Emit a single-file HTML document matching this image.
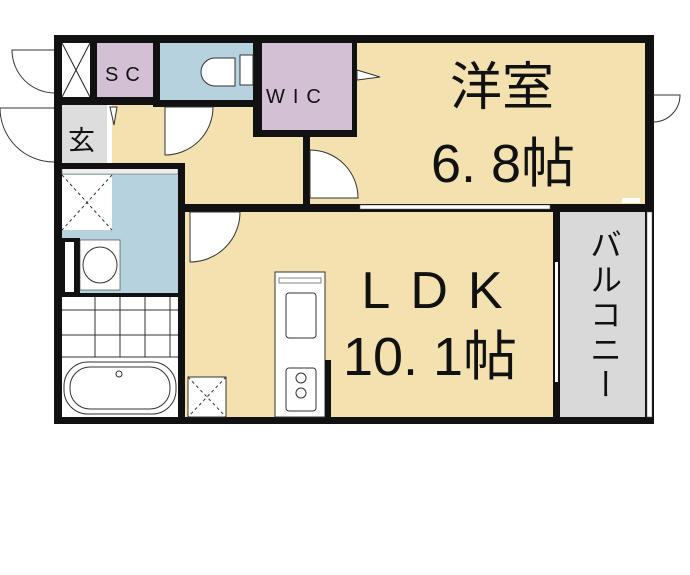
<!DOCTYPE html>
<html><head><meta charset="utf-8"><style>
body{margin:0;background:#fff;width:690px;height:575px;overflow:hidden}
svg{position:absolute;left:0;top:0}
text{font-family:"Liberation Sans","Noto Sans CJK JP",sans-serif;fill:#111}
</style></head><body>
<svg width="690" height="575" viewBox="0 0 690 575">
<rect x="54" y="35" width="600" height="389" fill="#111"/>
<rect x="357" y="43" width="288" height="161" fill="#f3e2b0"/>
<rect x="185" y="212" width="368" height="205" fill="#f3e2b0"/>
<rect x="110" y="105" width="195" height="100" fill="#f3e2b0"/>
<rect x="310" y="137" width="47" height="68" fill="#f3e2b0"/>
<rect x="560" y="212" width="85" height="205" fill="#d9d9d9"/>
<rect x="262" y="43" width="90" height="87" fill="#d4c0d4"/>
<rect x="97" y="43" width="56" height="54" fill="#d4c0d4"/>
<rect x="160" y="43" width="93" height="57" fill="#b5d2de"/>
<rect x="62" y="43" width="28" height="54" fill="#fff"/>
<line x1="62" y1="43" x2="90" y2="97" stroke="#222"/><line x1="90" y1="43" x2="62" y2="97" stroke="#222"/>
<rect x="62" y="105" width="45" height="63" fill="#ddd"/>
<rect x="107" y="105" width="5" height="63" fill="#fff"/>
<rect x="62" y="168" width="116" height="127" fill="#b5d2de"/>
<rect x="62" y="175" width="50" height="55" fill="#fff"/>
<line x1="62" y1="175" x2="112" y2="230" stroke="#333" stroke-dasharray="3,3"/><line x1="112" y1="175" x2="62" y2="230" stroke="#333" stroke-dasharray="3,3"/>
<rect x="62" y="168" width="116" height="6" fill="#eee" stroke="#555" stroke-width="0.5"/>
<rect x="62" y="238" width="18" height="57" fill="#111"/>
<rect x="65" y="242" width="9" height="50" fill="#fff"/>
<rect x="80" y="240" width="40" height="50" fill="#fff" stroke="#333" stroke-width="0.6"/>
<ellipse cx="100" cy="265" rx="17" ry="18" fill="#fff" stroke="#333"/>
<rect x="62" y="295" width="116" height="122" fill="#fff"/>
<g stroke="#333" stroke-width="1">
<line x1="62" y1="310" x2="178" y2="310"/><line x1="62" y1="335" x2="178" y2="335"/>
<line x1="95" y1="297" x2="95" y2="357"/><line x1="120" y1="297" x2="120" y2="357"/><line x1="145" y1="297" x2="145" y2="357"/><line x1="170" y1="297" x2="170" y2="357"/>
<line x1="62" y1="357" x2="178" y2="357"/>
</g>
<rect x="64" y="362" width="112" height="52" rx="24" fill="#fff" stroke="#333"/>
<rect x="70" y="367" width="100" height="42" rx="20" fill="#fff" stroke="#333"/>
<circle cx="119" cy="374" r="3" fill="#fff" stroke="#333"/>
<g fill="#111">
<rect x="54" y="97" width="56" height="8"/>
<rect x="90" y="43" width="7" height="54"/>
<rect x="153" y="43" width="7" height="64"/>
<rect x="160" y="100" width="97" height="7"/>
<rect x="253" y="43" width="9" height="94"/>
<rect x="253" y="130" width="104" height="7"/>
<rect x="352" y="43" width="5" height="94"/>
<rect x="303" y="130" width="7" height="82"/>
<rect x="178" y="168" width="7" height="250"/>
<rect x="54" y="163" width="131" height="6"/>
<rect x="185" y="204" width="460" height="8"/>
<rect x="553" y="204" width="7" height="214"/>
<rect x="62" y="293" width="116" height="4"/>
</g>
<rect x="240" y="55" width="13" height="30" fill="#fff" stroke="#333"/>
<path d="M235 58 H215 a14 14 0 0 0 0 28 H235 Z" fill="#fff" stroke="#333"/>
<g fill="#fff" stroke="#333" stroke-width="1">
<path d="M165 107 H213 A48 48 0 0 1 165 155 Z"/>
<path d="M310 150 V198 H358 A48 48 0 0 0 310 150 Z"/>
<path d="M190 212 H240 A50 50 0 0 1 190 262 Z"/>
<path d="M54 50 H12 A43 43 0 0 0 54 93" fill="none"/>
<path d="M54 108 H0 A54 54 0 0 0 54 162" fill="none"/>
<path d="M653 95 H680 A27 27 0 0 1 653 122" fill="none"/>
<path d="M357 70 L380 77 L357 80 Z"/>
<path d="M110 107 L117 107 L114 125 Z"/>
</g>
<rect x="360" y="205" width="190" height="4" fill="#fff" stroke="#555" stroke-width="0.5"/>
<rect x="555" y="262" width="3" height="120" fill="#fff"/>
<rect x="647" y="212" width="5" height="205" fill="#fff" stroke="#555" stroke-width="0.5"/>
<rect x="622" y="198" width="18" height="5" fill="#fff"/>
<rect x="275" y="272" width="50" height="145" fill="#fff" stroke="#333"/>
<rect x="279" y="278" width="42" height="5" fill="#fff" stroke="#333" stroke-width="0.6"/>
<rect x="286" y="293" width="30" height="45" rx="3" fill="#fff" stroke="#333"/>
<rect x="286" y="368" width="30" height="43" rx="3" fill="#fff" stroke="#333"/>
<circle cx="301" cy="378" r="5" fill="#fff" stroke="#333"/><circle cx="301" cy="393" r="5" fill="#fff" stroke="#333"/>
<rect x="325" y="360" width="6" height="57" fill="#111"/>
<rect x="188" y="377" width="38" height="40" fill="#fff" stroke="#333"/>
<line x1="188" y1="377" x2="226" y2="417" stroke="#333" stroke-dasharray="3,3"/><line x1="226" y1="377" x2="188" y2="417" stroke="#333" stroke-dasharray="3,3"/>
<text x="105" y="81" font-size="20" letter-spacing="7">SC</text>
<text x="266" y="103" font-size="20" letter-spacing="8">WIC</text>
<text x="68" y="150" font-size="27">玄</text>
<text x="502" y="105" font-size="52" text-anchor="middle">洋室</text>
<text x="503" y="182" font-size="54" text-anchor="middle">6. 8帖</text>
<text x="442" y="308" font-size="52" text-anchor="middle" letter-spacing="20">LDK</text>
<text x="430" y="375" font-size="54" text-anchor="middle">10. 1帖</text>
<text font-size="32" x="604" y="228" letter-spacing="3" style="writing-mode:vertical-rl">バルコニー</text>
</svg>
</body></html>
